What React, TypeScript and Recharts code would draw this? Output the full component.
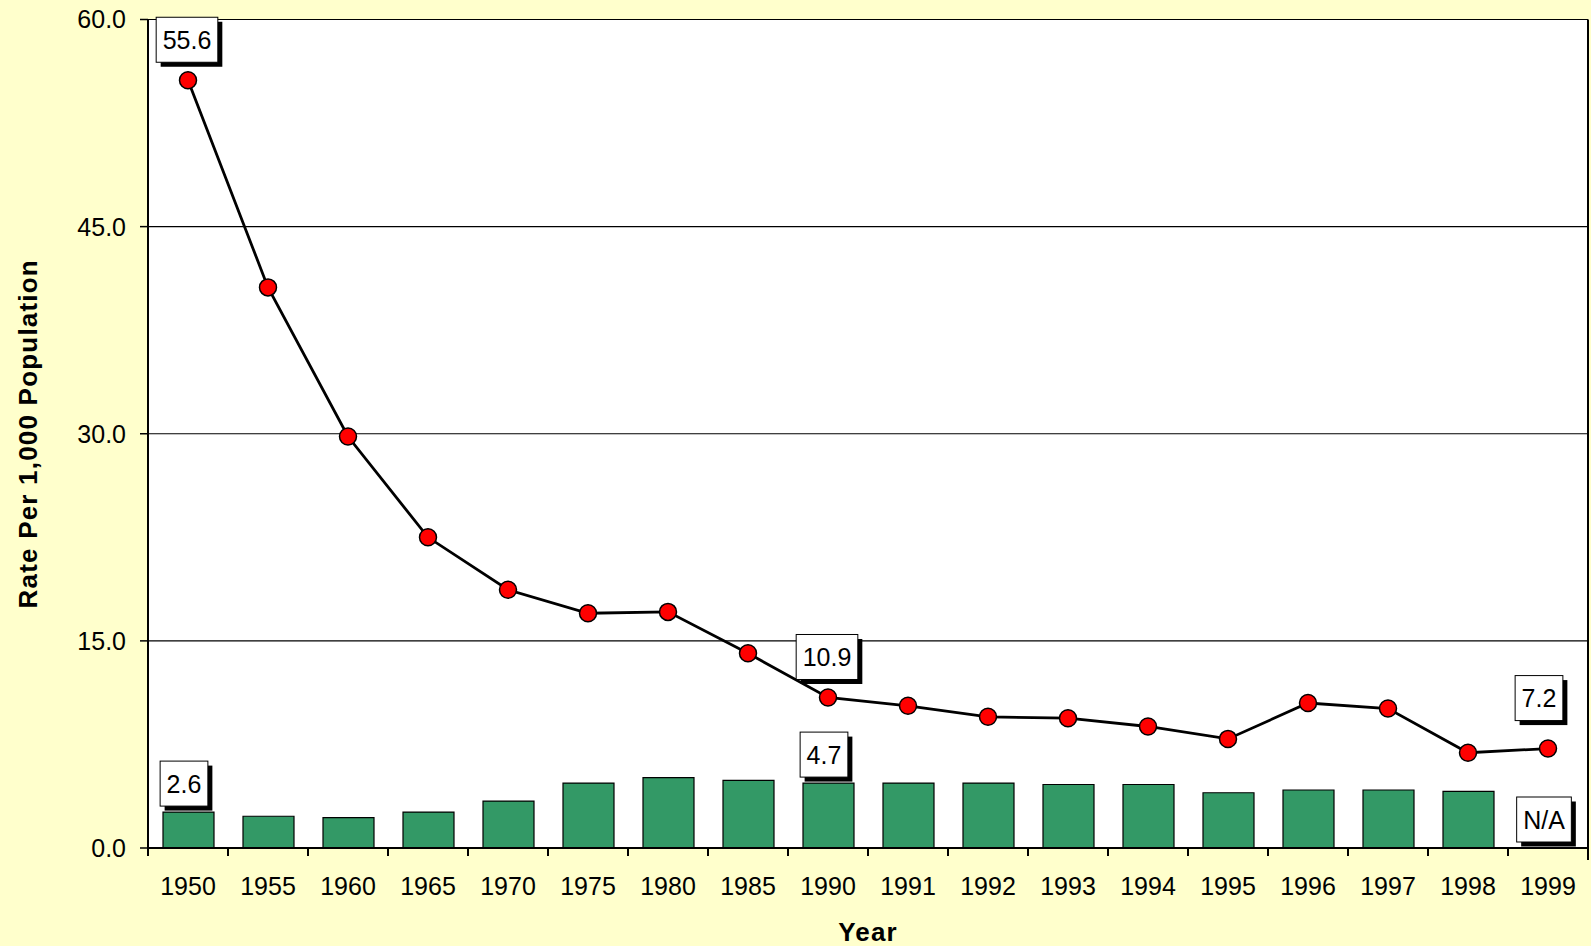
import React from 'react';
import { ComposedChart, Bar, Line, XAxis, YAxis, CartesianGrid, LabelList } from 'recharts';

const years = ['1950', '1955', '1960', '1965', '1970', '1975', '1980', '1985', '1990', '1991', '1992', '1993', '1994', '1995', '1996', '1997', '1998', '1999'];
const rateValues = [55.6, 40.6, 29.8, 22.5, 18.7, 17.0, 17.1, 14.1, 10.9, 10.3, 9.5, 9.4, 8.8, 7.9, 10.5, 10.1, 6.9, 7.2];
const barValues: (number | null)[] = [2.6, 2.3, 2.2, 2.6, 3.4, 4.7, 5.1, 4.9, 4.7, 4.7, 4.7, 4.6, 4.6, 4.0, 4.2, 4.2, 4.1, null];
const rateLabels = ['55.6', '', '', '', '', '', '', '', '10.9', '', '', '', '', '', '', '', '', '7.2'];
const barLabels = ['2.6', '', '', '', '', '', '', '', '4.7', '', '', '', '', '', '', '', '', 'N/A'];
const yTicks = [0, 15, 30, 45, 60];

const data = years.map((year, i) => ({
  year,
  rate: rateValues[i],
  bar: barValues[i],
  barAnchor: barValues[i] ?? 0,
  rateLabel: rateLabels[i],
  barLabel: barLabels[i],
}));

const FONT = '"Liberation Sans", Arial, Helvetica, sans-serif';
const BG = '#FFFFCC';

const charW: Record<string, number> = { '.': 0.278, '/': 0.278, N: 0.722, A: 0.667 };
const textWidth = (t: string, fs: number) =>
  t.split('').reduce((s, c) => s + (charW[c] ?? 0.556), 0) * fs;

const LabelBox = ({ cx, bottom, text }: { cx: number; bottom: number; text: string }) => {
  const fs = 25;
  const w = textWidth(text, fs) + 13;
  const h = 45;
  const x = cx - w / 2;
  const y = bottom - h;
  return (
    <g>
      <rect x={x + 4.5} y={y + 4.5} width={w} height={h} fill="#000" />
      <rect x={x} y={y} width={w} height={h} fill="#fff" stroke="#000" strokeWidth={1} />
      <text x={cx} y={y + h / 2 + 9} textAnchor="middle" fontSize={fs} fontFamily={FONT} fill="#000">
        {text}
      </text>
    </g>
  );
};

const lineNudge: Record<number, { dx: number; dy: number }> = {
  0: { dx: -1, dy: 0 },
  8: { dx: -1, dy: 0 },
  17: { dx: -9, dy: -10 },
};

const pointOf = (props: any) => {
  const vb = props.viewBox || {};
  return { px: vb.x ?? props.x, py: vb.y ?? props.y };
};

const renderLineLabel = (props: any) => {
  const { value, index } = props;
  if (!value) return null;
  const { px, py } = pointOf(props);
  const n = lineNudge[index] || { dx: 0, dy: 0 };
  return <LabelBox key={`ll-${index}`} cx={px + n.dx} bottom={py - 18 + n.dy} text={String(value)} />;
};

const renderBarLabel = (props: any) => {
  const { value, index } = props;
  if (!value) return null;
  const { px, py } = pointOf(props);
  return <LabelBox key={`bl-${index}`} cx={px - 4} bottom={py - 6} text={String(value)} />;
};

const XTick = (props: any) => {
  const { x, y, payload, index, visibleTicksCount, width } = props;
  const half = typeof payload?.offset === 'number' && payload.offset > 0 ? payload.offset : width / visibleTicksCount / 2;
  const axisY = y - 8;
  return (
    <g>
      <line x1={x - half} x2={x - half} y1={axisY} y2={axisY + 8} stroke="#000" strokeWidth={2} />
      {index === visibleTicksCount - 1 && (
        <line x1={x + half} x2={x + half} y1={axisY} y2={axisY + 12} stroke="#000" strokeWidth={2} />
      )}
      <text x={x} y={axisY + 47} textAnchor="middle" fontSize={25} fontFamily={FONT} fill="#000">
        {payload.value}
      </text>
    </g>
  );
};

const YTitle = (props: any) => {
  const vb = props.viewBox || {};
  const cx = (vb.x ?? 0) + 28;
  const cy = (vb.y ?? 0) + (vb.height ?? 0) / 2;
  return (
    <text
      x={cx}
      y={cy}
      transform={`rotate(-90, ${cx}, ${cy})`}
      textAnchor="middle"
      dominantBaseline="central"
      fontSize={26}
      fontWeight="bold"
      letterSpacing={1.2}
      fontFamily={FONT}
      fill="#000"
    >
      Rate Per 1,000 Population
    </text>
  );
};

const XTitle = (props: any) => {
  const vb = props.viewBox || {};
  const cx = (vb.x ?? 0) + (vb.width ?? 0) / 2;
  return (
    <text x={cx} y={(vb.y ?? 0) + 93} textAnchor="middle" fontSize={26} fontWeight="bold" letterSpacing={1.2} fontFamily={FONT} fill="#000">
      Year
    </text>
  );
};

export default function App() {
  return (
    <div style={{ position: 'absolute', left: 0, top: 0, width: 1591, height: 946, background: BG }}>
      <ComposedChart width={1591} height={946} data={data} margin={{ top: 19.5, right: 0, left: 0, bottom: 0 }}>
        <CartesianGrid vertical={false} horizontal={true} stroke="#000" strokeWidth={1.2} fill="#fff" fillOpacity={1} />
        <XAxis
          dataKey="year"
          height={98}
          interval={0}
          tickSize={8}
          tickMargin={0}
          tickLine={false}
          axisLine={{ stroke: '#000', strokeWidth: 2 }}
          tick={<XTick />}
          label={<XTitle />}
        />
        <YAxis
          width={148}
          domain={[0, 60]}
          ticks={yTicks}
          interval={0}
          tickSize={8}
          tickMargin={14}
          tickFormatter={(v: number) => v.toFixed(1)}
          tick={{ fontSize: 25, fill: '#000', fontFamily: FONT }}
          tickLine={{ stroke: '#000', strokeWidth: 1.5 }}
          axisLine={{ stroke: '#000', strokeWidth: 2 }}
          label={<YTitle />}
        />
        <YAxis
          yAxisId="r"
          orientation="right"
          width={3}
          domain={[0, 60]}
          tick={false}
          tickLine={false}
          axisLine={{ stroke: '#000', strokeWidth: 2 }}
        />
        <Bar dataKey="bar" barSize={51} fill="#339966" stroke="#000" strokeWidth={1.2} isAnimationActive={false} />
        <Line
          type="linear"
          dataKey="barAnchor"
          stroke="none"
          dot={false}
          activeDot={false}
          legendType="none"
          isAnimationActive={false}
        >
          <LabelList dataKey="barLabel" content={renderBarLabel} />
        </Line>
        <Line
          type="linear"
          dataKey="rate"
          stroke="#000"
          strokeWidth={2.8}
          dot={{ r: 8.5, fill: '#FF0000', stroke: '#000', strokeWidth: 1.5 }}
          activeDot={false}
          isAnimationActive={false}
        >
          <LabelList dataKey="rateLabel" content={renderLineLabel} />
        </Line>
      </ComposedChart>
    </div>
  );
}
